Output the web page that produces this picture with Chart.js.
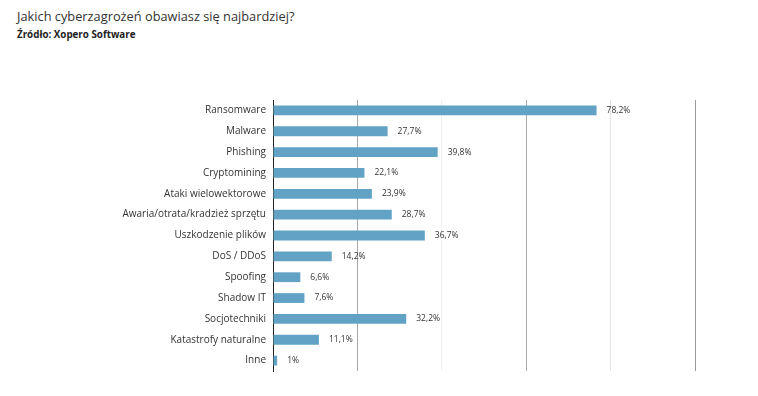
<!DOCTYPE html>
<html lang="pl">
<head>
<meta charset="utf-8">
<script src="https://cdn.jsdelivr.net/npm/chart.js@4/dist/chart.umd.min.js"></script>
<style>
  html, body { margin: 0; padding: 0; background: #fff; }
  body { width: 758px; height: 396px; position: relative; overflow: hidden; font-family: 'Open Sans', sans-serif; }
  #title { position: absolute; left: 17px; top: 7px; font-size: 12.8px; color: #333; }
  #source { position: absolute; left: 17px; top: 28px; font-size: 9.8px; font-weight: bold; color: #222; }
  #wrap { position: absolute; left: 0; top: 0; width: 758px; height: 396px; }
</style>
</head>
<body>
<div id="title">Jakich cyberzagrożeń obawiasz się najbardziej?</div>
<div id="source">Źródło: Xopero Software</div>
<div id="wrap"><canvas id="chart"></canvas></div>
<script>
'use strict';

// Kategorie i wartosci (w %).
const categories = [
  'Ransomware', 'Malware', 'Phishing', 'Cryptomining', 'Ataki wielowektorowe',
  'Awaria/otrata/kradzież sprzętu', 'Uszkodzenie plików', 'DoS / DDoS', 'Spoofing',
  'Shadow IT', 'Socjotechniki', 'Katastrofy naturalne', 'Inne',
];
const values = [78.2, 27.7, 39.8, 22.1, 23.9, 28.7, 36.7, 14.2, 6.6, 7.6, 32.2, 11.1, 1];
const valueLabels = ['78,2%', '27,7%', '39,8%', '22,1%', '23,9%', '28,7%', '36,7%',
  '14,2%', '6,6%', '7,6%', '32,2%', '11,1%', '1%'];

// Pionowe linie siatki (bez etykiet osi X).
const gridValues = [0, 20.4, 40.8, 61.2, 81.6, 102];
const gridColors = ['rgba(0,0,0,0)', '#a8a8a8', '#f0f0f0', '#a8a8a8', '#e4e4e4', '#999999'];

const BAR_COLOR = '#62a3c5';

// Etykiety wartosci za koncem slupka.
const valueLabelPlugin = {
  id: 'valueLabels',
  afterDatasetsDraw(chart) {
    const ctx = chart.ctx;
    const meta = chart.getDatasetMeta(0);
    ctx.save();
    ctx.font = '8.5px "Open Sans", sans-serif';
    ctx.fillStyle = '#333';
    ctx.textAlign = 'left';
    ctx.textBaseline = 'middle';
    meta.data.forEach((bar, i) => {
      ctx.fillText(valueLabels[i], bar.x + 10, bar.y);
    });
    ctx.restore();
  },
};

new Chart(document.getElementById('chart'), {
  type: 'bar',
  data: {
    labels: categories,
    datasets: [{
      data: values,
      backgroundColor: BAR_COLOR,
      borderWidth: 0,
      barPercentage: 0.47,
      categoryPercentage: 1,
    }],
  },
  options: {
    indexAxis: 'y',
    responsive: true,
    maintainAspectRatio: false,
    animation: false,
    layout: { padding: { top: 100, right: 63, bottom: 25, left: 0 } },
    plugins: {
      legend: { display: false },
      tooltip: { enabled: false },
    },
    scales: {
      x: {
        min: 0,
        max: 102,
        afterBuildTicks: (scale) => { scale.ticks = gridValues.map((v) => ({ value: v })); },
        ticks: { display: false },
        grid: {
          drawTicks: false,
          color: (c) => gridColors[c.index] || '#ddd',
          lineWidth: 1,
        },
        border: { display: false },
      },
      y: {
        afterFit: (scale) => { scale.width = 273; },
        ticks: {
          color: '#333',
          padding: 7,
          font: { family: "'Open Sans', sans-serif", size: 10 },
        },
        grid: { display: false, drawTicks: false },
        border: { display: true, color: '#222', width: 1 },
      },
    },
  },
  plugins: [valueLabelPlugin],
});
</script>
</body>
</html>
